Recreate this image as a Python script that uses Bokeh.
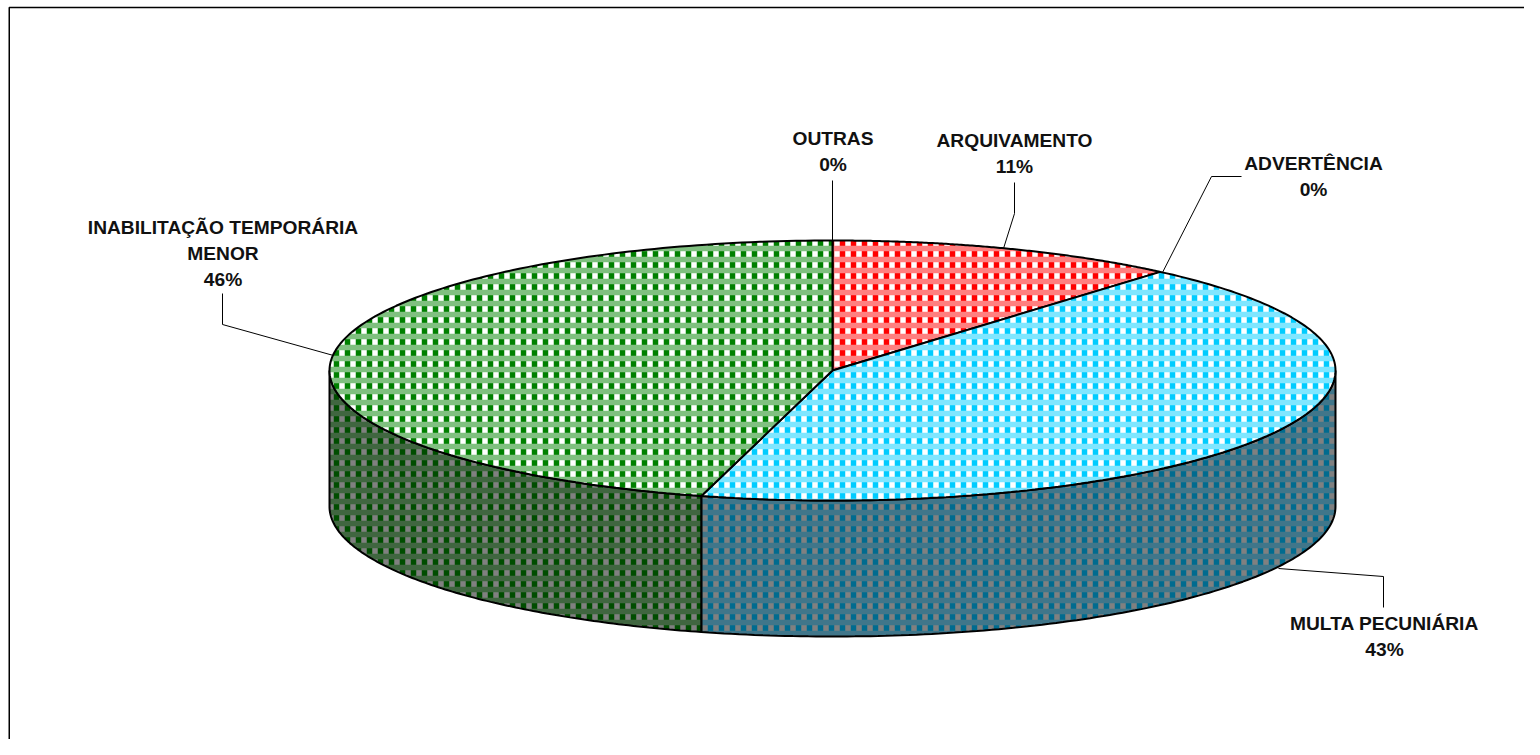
import numpy as np
from bokeh.plotting import figure
from bokeh.embed import file_html
from bokeh.resources import INLINE
from bokeh.core.properties import value
from bokeh.models import Range1d

categories = ["ARQUIVAMENTO", "ADVERTÊNCIA", "MULTA PECUNIÁRIA", "INABILITAÇÃO TEMPORÁRIA\nMENOR", "OUTRAS"]
shares = [11.3, 0.0, 42.9, 45.8, 0.0]
pct_labels = ["11%", "0%", "43%", "46%", "0%"]
top_colors = ["#ff0000", "#ffffff", "#00ccff", "#008000", "#ffffff"]
band_colors = ["#ff8080", "#ffffff", "#80e6ff", "#80c080", "#ffffff"]
side_colors = ["#800000", "#808080", "#006b8f", "#004d00", "#808080"]
side_band = ["#804040", "#808080", "#40768a", "#406640", "#808080"]
label_xy = [(1014, 140), (1313, 163), (1384, 623), (222.5, 227), (832.5, 138)]

W, H = 1524, 739
CX, CY, RX, RY, DEPTH = 832, 370, 503, 130, 136

p = figure(width=W, height=H, x_range=Range1d(0, W), y_range=Range1d(H, 0),
           toolbar_location=None, output_backend="svg", min_border=0)
p.axis.visible = False
p.grid.visible = False
p.outline_line_color = None
p.background_fill_color = "white"


def pt(a):
    t = np.radians(a)
    return CX + RX * np.sin(t), CY - RY * np.cos(t)


def patterned(xs, ys, base, stripe, band):
    p.patch(xs, ys, fill_color=base, line_color=None)
    p.patch(xs, ys, fill_color=None, line_color=None, hatch_pattern="vertical_line",
            hatch_color=stripe, hatch_scale=11, hatch_weight=5.5)
    p.patch(xs, ys, fill_color=None, line_color=None, hatch_pattern="horizontal_line",
            hatch_color=band, hatch_scale=11, hatch_weight=5.5)
    p.patch(xs, ys, fill_color=None, line_color="black", line_width=2)


cum = np.concatenate([[0], np.cumsum(shares)]) * 360 / sum(shares)
# side walls first
for i, s in enumerate(shares):
    if s <= 0:
        continue
    a0, a1 = cum[i], cum[i + 1]
    lo, hi = max(a0, 90), min(a1, 270)
    if hi <= lo:
        continue
    a = np.linspace(lo, hi, 120)
    x, y = pt(a)
    patterned(np.r_[x, x[::-1]], np.r_[y, y[::-1] + DEPTH], "#808080", side_colors[i], side_band[i])
# top slices
for i, s in enumerate(shares):
    if s <= 0:
        continue
    a = np.linspace(cum[i], cum[i + 1], 160)
    x, y = pt(a)
    patterned(np.r_[CX, x], np.r_[CY, y], "#ffffff", top_colors[i], band_colors[i])

# leader lines
leaders = [([1003, 1014, 1014], [248, 213, 182]),
           ([1162, 1211, 1241], [272, 176, 176]),
           ([1278, 1383, 1383], [568, 576, 607]),
           ([333, 222, 222], [355, 324, 293]),
           ([832, 832], [240, 180])]
for lx, ly in leaders:
    p.line(lx, ly, line_color="black", line_width=1)

# labels
tx, ty, tt = [], [], []
for (x, y), c, l in zip(label_xy, categories, pct_labels):
    for j, part in enumerate(c.split("\n") + [l]):
        tx.append(x); ty.append(y + j * 26); tt.append(part)
p.text(tx, ty, text=tt, text_font=value("Liberation Sans"), text_font_style="bold",
       text_font_size="19.2px", text_align="center", text_baseline="middle", text_color="#111111")

# chart frame: top and left edges only
p.line([W, 8.75, 8.75], [7, 7, H], line_color="black", line_width=1.5)

open("out.html", "w").write(file_html(p, INLINE))
